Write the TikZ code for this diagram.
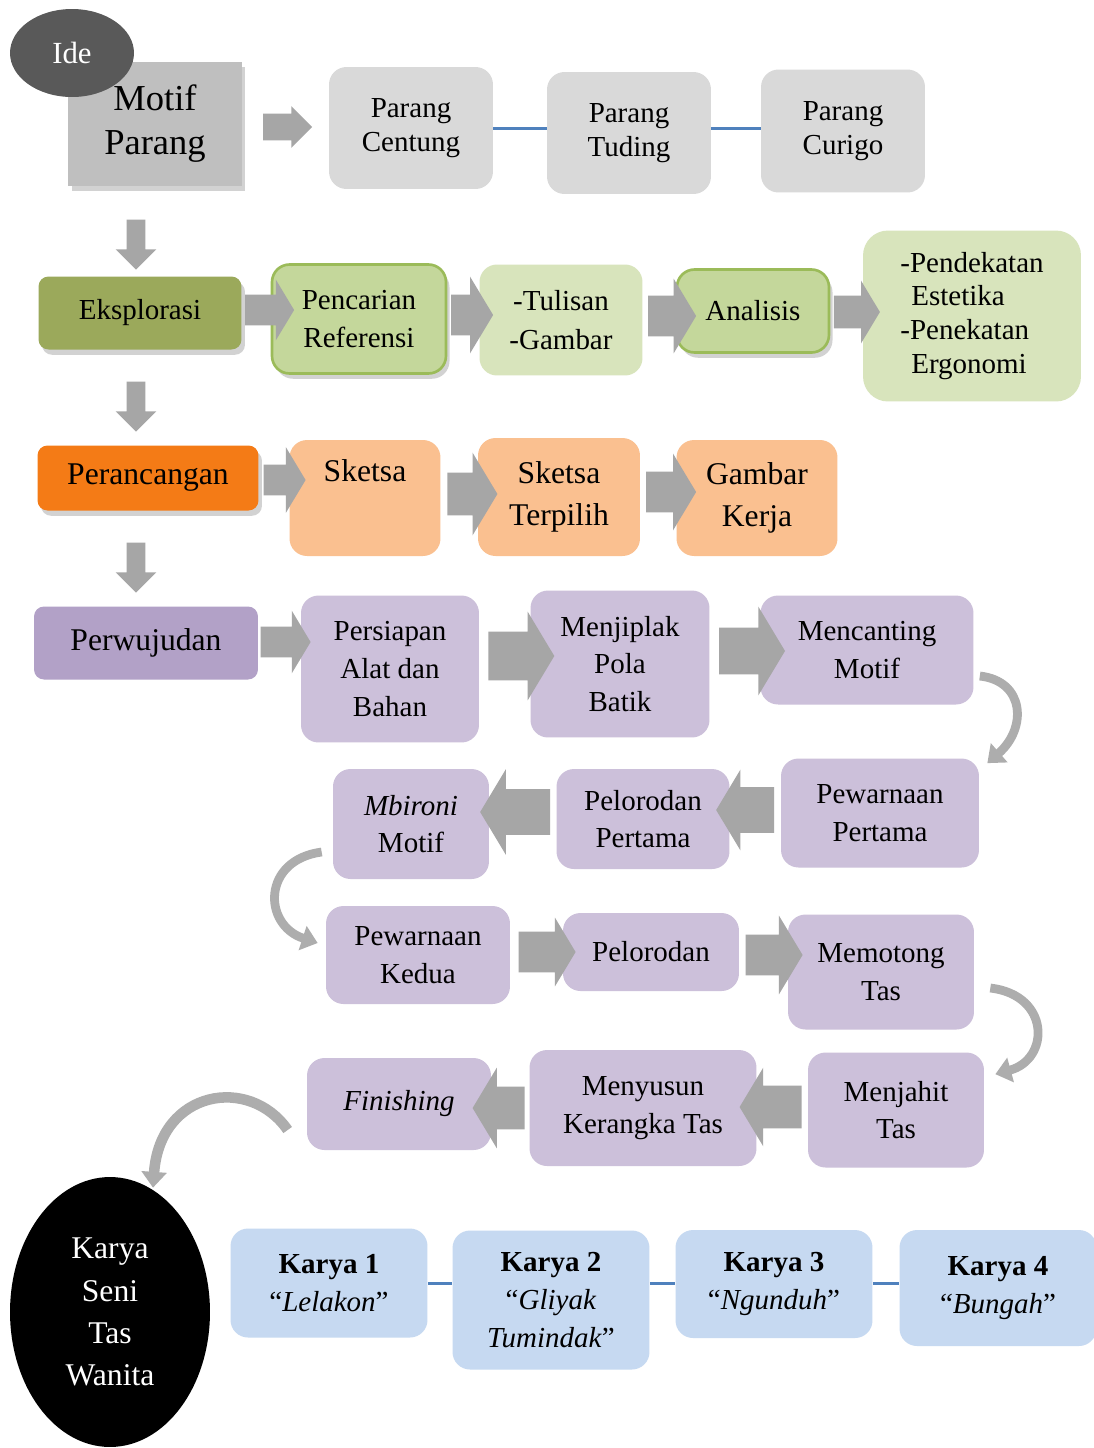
\documentclass[tikz,border=0pt]{standalone}
\usepackage{fontspec}
\setmainfont{Liberation Serif}
\usetikzlibrary{shapes.geometric,shapes.arrows,shadows,arrows.meta,calc}

\definecolor{abutua}{HTML}{595959}
\definecolor{abumotif}{HTML}{BFBFBF}
\definecolor{abumuda}{HTML}{D9D9D9}
\definecolor{abupanah}{HTML}{A6A6A6}
\definecolor{abulengkung}{HTML}{ADADAD}
\definecolor{birugaris}{HTML}{4F81BD}
\definecolor{zaitun}{HTML}{9BA95B}
\definecolor{hijau}{HTML}{C4D79B}
\definecolor{hijaumuda}{HTML}{D8E4BC}
\definecolor{hijaugaris}{HTML}{9BBB59}
\definecolor{oranye}{HTML}{F47B16}
\definecolor{oranyemuda}{HTML}{FAC090}
\definecolor{ungu}{HTML}{B2A1C7}
\definecolor{ungumuda}{HTML}{CCC0DA}
\definecolor{birumuda}{HTML}{C6D9F1}

\tikzset{
  huruf/.style 2 args={font=\fontsize{#1}{#2}\selectfont},
  kotak/.style={rounded corners=0.35cm, align=center, inner sep=2pt, huruf={16.5}{21.5}},
  ukuran/.style 2 args={minimum width=#1, minimum height=#2},
  bayang/.style={drop shadow={opacity=0.35, shadow xshift=2pt, shadow yshift=-3pt}},
  panah/.style n args={3}{single arrow, fill=abupanah, inner xsep=0pt, text height=0pt, text depth=0pt,
    minimum height=#1, inner ysep=#2, single arrow head extend=#3, single arrow tip angle=118},
  turun/.style={single arrow, fill=abupanah, text height=0pt, text depth=0pt, inner ysep=0pt,
    inner xsep=0.18cm, minimum height=1.0cm, single arrow head extend=0.22cm, shape border rotate=270},
  garis/.style={birugaris, line width=1.7pt},
  lengkung/.style={draw=abulengkung, line width=5pt, -{Triangle[width=14pt,length=9pt]}}
}

\begin{document}
\begin{tikzpicture}[x=0.02cm, y=-0.02cm]
  \useasboundingbox[fill=white] (0,0) rectangle (1094,1448);

  % ide
  \node[kotak, rounded corners=0pt, fill=abumotif, bayang, ukuran={3.48cm}{2.48cm}, huruf={20.8}{25}] (motif) at (155,124) {Motif\\Parang};
  \node[ellipse, fill=abutua, text=white, ukuran={2.48cm}{1.76cm}, huruf={17.5}{21}] (ide) at (72,53) {Ide};
  \node[kotak, fill=abumuda, ukuran={3.28cm}{2.44cm}, huruf={16.5}{19.5}] (centung) at (411,128) {Parang\\Centung};
  \node[kotak, fill=abumuda, ukuran={3.28cm}{2.44cm}, huruf={16.5}{19.5}] (tuding) at (629,133) {Parang\\Tuding};
  \node[kotak, fill=abumuda, ukuran={3.28cm}{2.46cm}, huruf={16.5}{19.5}] (curigo) at (843,131) {Parang\\Curigo};
  \draw[garis] (centung.east) -- (centung.east -| tuding.west);
  \draw[garis] (centung.east -| tuding.east) -- (centung.east -| curigo.west);
  \node[panah={0.98cm}{0.26cm}{0.15cm}, single arrow tip angle=90] (p0) at (281,127) {};

  % eksplorasi
  \node[kotak, fill=zaitun, bayang, ukuran={4.06cm}{1.46cm}, rounded corners=0.2cm] (eksplorasi) at (140,313) {Eksplorasi};
  \node[kotak, fill=hijau, draw=hijaugaris, line width=1.5pt, bayang, ukuran={3.48cm}{2.18cm}, huruf={16.5}{22}] (pencarian) at (359,319) {Pencarian\\Referensi};
  \node[kotak, fill=hijaumuda, ukuran={3.26cm}{2.22cm}, huruf={16.5}{22}] (tulisan) at (561,320) {-Tulisan\\-Gambar};
  \node[kotak, fill=hijau, draw=hijaugaris, line width=1.5pt, bayang, ukuran={3.04cm}{1.66cm}] (analisis) at (753,311) {Analisis};
  \node[kotak, fill=hijaumuda, ukuran={4.36cm}{3.42cm}, align=left, huruf={16.5}{19.3}, rounded corners=0.5cm] (pendekatan) at (972,316)
    {-Pendekatan\\\hspace{0.22cm}Estetika\\-Penekatan\\\hspace{0.22cm}Ergonomi};
  \node[panah={0.98cm}{0.30cm}{0.30cm}] (b1) at (265,310) {};
  \node[panah={0.84cm}{0.40cm}{0.36cm}] (b2) at (466,315) {};
  \node[panah={0.96cm}{0.40cm}{0.34cm}] (b3) at (666,316) {};
  \node[panah={0.92cm}{0.32cm}{0.30cm}] (b4) at (852,312) {};

  % perancangan
  \node[kotak, fill=oranye, bayang, ukuran={4.42cm}{1.30cm}, huruf={18}{24}, rounded corners=0.2cm] (perancangan) at (148,478) {Perancangan};
  \node[kotak, fill=oranyemuda, ukuran={3.02cm}{2.32cm}, huruf={18}{24}] (sketsa) at (365,498) {Sketsa\\\strut};
  \node[kotak, fill=oranyemuda, ukuran={3.24cm}{2.36cm}, huruf={18}{24}] (terpilih) at (559,497) {Sketsa\\Terpilih};
  \node[kotak, fill=oranyemuda, ukuran={3.22cm}{2.32cm}, huruf={18}{24}] (gambar) at (757,498) {Gambar\\Kerja};
  \node[panah={0.84cm}{0.30cm}{0.35cm}] (c1) at (280,480) {};
  \node[panah={1.0cm}{0.42cm}{0.40cm}] (c2) at (466,494) {};
  \node[panah={1.0cm}{0.40cm}{0.36cm}] (c3) at (665,492) {};

  \node[turun] (t1) at (136,240) {};
  \node[turun] (t2) at (136,402) {};
  \node[turun] (t3) at (136,563) {};

  % perwujudan
  \node[kotak, fill=ungu, ukuran={4.48cm}{1.46cm}, huruf={18}{24}, rounded corners=0.2cm] (perwujudan) at (146,643) {Perwujudan};
  \node[kotak, fill=ungumuda, ukuran={3.56cm}{2.94cm}] (persiapan) at (390,669) {Persiapan\\Alat dan\\Bahan};
  \node[kotak, fill=ungumuda, ukuran={3.58cm}{2.94cm}] (menjiplak) at (620,664) {Menjiplak\\Pola\\Batik};
  \node[kotak, fill=ungumuda, ukuran={4.26cm}{2.18cm}] (mencanting) at (867,650) {Mencanting\\Motif};
  \node[kotak, fill=ungumuda, ukuran={3.96cm}{2.18cm}] (pewarnaan1) at (880,813) {Pewarnaan\\Pertama};
  \node[kotak, fill=ungumuda, ukuran={3.46cm}{2.00cm}] (pelorodan1) at (643,819) {Pelorodan\\Pertama};
  \node[kotak, fill=ungumuda, ukuran={3.12cm}{2.20cm}] (mbironi) at (411,824) {\textit{Mbironi}\\Motif};
  \node[kotak, fill=ungumuda, ukuran={3.68cm}{1.96cm}] (pewarnaan2) at (418,955) {Pewarnaan\\Kedua};
  \node[kotak, fill=ungumuda, ukuran={3.52cm}{1.56cm}] (pelorodan2) at (651,952) {Pelorodan};
  \node[kotak, fill=ungumuda, ukuran={3.72cm}{2.30cm}] (memotong) at (881,972) {Memotong\\Tas};
  \node[kotak, fill=ungumuda, ukuran={3.52cm}{2.30cm}] (menjahit) at (896,1110) {Menjahit\\Tas};
  \node[kotak, fill=ungumuda, ukuran={4.54cm}{2.32cm}] (menyusun) at (643,1108) {Menyusun\\Kerangka Tas};
  \node[kotak, fill=ungumuda, ukuran={3.68cm}{1.84cm}] (finishing) at (399,1104) {\textit{Finishing}};

  \node[panah={1.0cm}{0.30cm}{0.32cm}] (d1) at (281,642) {};
  \node[panah={1.32cm}{0.48cm}{0.40cm}] (d2) at (514,656) {};
  \node[panah={1.32cm}{0.46cm}{0.42cm}] (d3) at (745,651) {};
  \node[panah={1.16cm}{0.45cm}{0.35cm}, shape border rotate=180] (e1) at (752,810) {};
  \node[panah={1.40cm}{0.45cm}{0.40cm}, shape border rotate=180] (e2) at (522,812) {};
  \node[panah={1.14cm}{0.40cm}{0.28cm}] (f1) at (541,952) {};
  \node[panah={1.14cm}{0.40cm}{0.38cm}] (f2) at (768,955) {};
  \node[panah={1.24cm}{0.42cm}{0.36cm}, shape border rotate=180] (g1) at (777,1107) {};
  \node[panah={1.04cm}{0.42cm}{0.38cm}, shape border rotate=180] (g2) at (505,1108) {};

  % karya
  \node[ellipse, fill=black, text=white, align=center, inner sep=0pt, ukuran={4.0cm}{5.4cm}, huruf={18}{24}] (karyaseni) at (110,1312) {Karya\\Seni\\Tas\\Wanita};
  \node[kotak, fill=birumuda, ukuran={3.94cm}{2.18cm}, huruf={16.5}{22}] (karya1) at (329,1283) {\textbf{Karya 1}\\“\textit{Lelakon}”};
  \node[kotak, fill=birumuda, ukuran={3.94cm}{2.78cm}, huruf={16.5}{21.5}] (karya2) at (551,1300) {\textbf{Karya 2}\\“\textit{Gliyak}\\\textit{Tumindak}”};
  \node[kotak, fill=birumuda, ukuran={3.94cm}{2.16cm}, huruf={16.5}{22}] (karya3) at (774,1284) {\textbf{Karya 3}\\“\textit{Ngunduh}”};
  \node[kotak, fill=birumuda, ukuran={3.94cm}{2.32cm}, huruf={16.5}{22}] (karya4) at (998,1288) {\textbf{Karya 4}\\“\textit{Bungah}”};
  \draw[garis] (karya1.east) -- (karya1.east -| karya2.west);
  \draw[garis] (karya1.east -| karya2.east) -- (karya1.east -| karya3.west);
  \draw[garis] (karya1.east -| karya3.east) -- (karya1.east -| karya4.west);

  % lengkung
  \draw[lengkung] ($(mencanting.east)+(6,26)$) .. controls +(45,5) and +(40,-35) .. ($(pewarnaan1.north east)+(8,5)$);
  \draw[lengkung] ($(mbironi.west)+(-11,28)$) .. controls +(-60,8) and +(-55,-18) .. ($(pewarnaan2.west)+(-8,-12)$);
  \draw[lengkung] ($(memotong.east)+(16,16)$) .. controls +(60,7) and +(55,-15) .. ($(menjahit.north east)+(11,22)$);
  \draw[lengkung, line width=6pt] ($(finishing.west)+(-19,26)$) .. controls +(-38,-55) and +(7,-98) .. ($(karyaseni.north)+(43,11)$);
\end{tikzpicture}
\end{document}
